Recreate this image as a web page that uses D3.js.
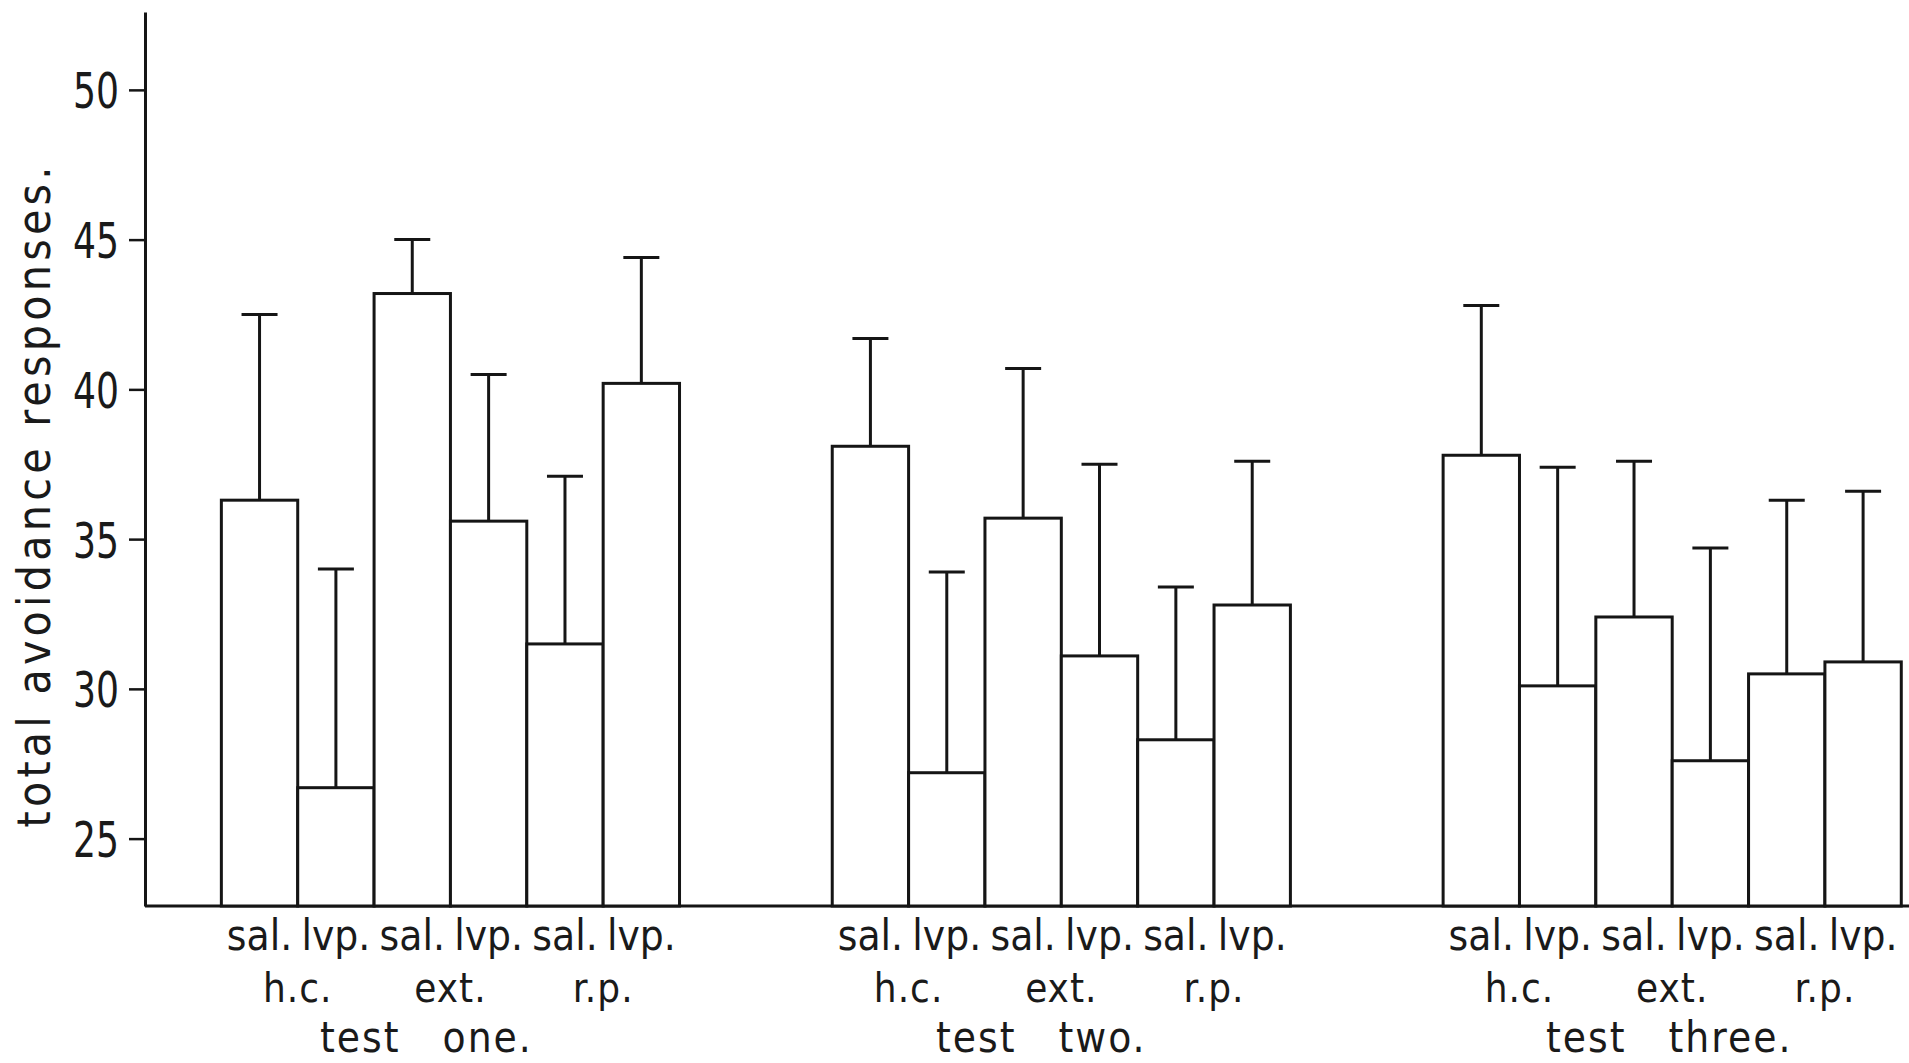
<!DOCTYPE html>
<html>
<head>
<meta charset="utf-8">
<script src="https://cdn.jsdelivr.net/npm/d3@7"></script>
<style>
  body { margin: 0; background: #fff; }
  text { font-family: "DejaVu Sans Condensed", "DejaVu Sans", sans-serif; font-stretch: condensed; fill: #1a1a1a; }
</style>
</head>
<body>
<script>
// tests, conditions and drug groups
var tests = ["test   one.", "test   two.", "test   three."];
var conditions = ["h.c.", "ext.", "r.p."];
var drugs = ["sal.", "lvp."];

// mean total avoidance responses, 6 bars per test (sal/lvp for h.c., ext., r.p.)
var meansOne = [36.3, 26.7, 43.2, 35.6, 31.5, 40.2];
var meansTwo = [38.1, 27.2, 35.7, 31.1, 28.3, 32.8];
var meansThree = [37.8, 30.1, 32.4, 27.6, 30.5, 30.9];

// error bar lengths (upward only)
var errOne = [6.2, 7.3, 1.8, 4.9, 5.6, 4.2];
var errTwo = [3.6, 6.7, 5.0, 6.4, 5.1, 4.8];
var errThree = [5.0, 7.3, 5.2, 7.1, 5.8, 5.7];

var yTicks = [25, 30, 35, 40, 45, 50];

var width = 1909,
	height = 1063;

var svg = d3.select("body")
	.append("svg")
	.attr("width", width)
	.attr("height", height);

svg.append("rect").attr("width", width).attr("height", height).attr("fill", "#fff");

//build rows from the arrays
var allMeans = [meansOne, meansTwo, meansThree],
	allErr = [errOne, errTwo, errThree];
var bars = [];
tests.forEach(function(t, g){
	allMeans[g].forEach(function(m, i){
		bars.push({test: t, key: i, drug: drugs[i % 2], cond: conditions[Math.floor(i / 2)], mean: m, err: allErr[g][i]});
	});
});

var axisX = 145;

var x0 = d3.scaleBand()
	.domain(tests)
	.range([axisX, axisX + 24 * 76.36])
	.paddingInner(0.25)
	.paddingOuter(0.125);

var x1 = d3.scaleBand()
	.domain(d3.range(6))
	.range([0, x0.bandwidth()])
	.padding(0);

var y = d3.scaleLinear()
	.domain([22.75, 52.6])
	.range([906, 12]);

var ink = "#151515";

//y axis
var yAxis = svg.append("g")
	.attr("transform", "translate(" + axisX + ",0)")
	.call(d3.axisLeft(y).tickValues(yTicks).tickSize(16).tickSizeOuter(0).tickPadding(10));
yAxis.select(".domain").attr("stroke", ink).attr("stroke-width", 3);
yAxis.selectAll(".tick line").attr("stroke", ink).attr("stroke-width", 2.5);
yAxis.selectAll(".tick text")
	.style("font-size", "50px")
	.attr("fill", "#1a1a1a")
	.attr("textLength", 46)
	.attr("lengthAdjust", "spacingAndGlyphs")
	.attr("dy", "0.36em");

//baseline
svg.append("line")
	.attr("x1", axisX).attr("x2", width)
	.attr("y1", y(22.75)).attr("y2", y(22.75))
	.attr("stroke", ink).attr("stroke-width", 3);

//bars
var groups = svg.selectAll(".grp")
	.data(tests)
	.enter()
	.append("g")
	.attr("class", "grp")
	.attr("transform", function(d){ return "translate(" + x0(d) + ",0)"; });

groups.selectAll(".bar")
	.data(function(t){ return bars.filter(function(b){ return b.test === t; }); })
	.enter()
	.append("rect")
	.attr("class", "bar")
	.attr("x", function(d){ return x1(d.key); })
	.attr("width", x1.bandwidth())
	.attr("y", function(d){ return y(d.mean); })
	.attr("height", function(d){ return y(22.75) - y(d.mean); })
	.attr("fill", "#fff")
	.attr("stroke", ink)
	.attr("stroke-width", 3);

//error bars
var cap = 18;
var eb = groups.selectAll(".err")
	.data(function(t){ return bars.filter(function(b){ return b.test === t; }); })
	.enter()
	.append("g")
	.attr("class", "err")
	.attr("stroke", ink)
	.attr("stroke-width", 3);
eb.append("line")
	.attr("x1", function(d){ return x1(d.key) + x1.bandwidth() / 2; })
	.attr("x2", function(d){ return x1(d.key) + x1.bandwidth() / 2; })
	.attr("y1", function(d){ return y(d.mean); })
	.attr("y2", function(d){ return y(d.mean + d.err); });
eb.append("line")
	.attr("x1", function(d){ return x1(d.key) + x1.bandwidth() / 2 - cap; })
	.attr("x2", function(d){ return x1(d.key) + x1.bandwidth() / 2 + cap; })
	.attr("y1", function(d){ return y(d.mean + d.err); })
	.attr("y2", function(d){ return y(d.mean + d.err); });

//category labels, three rows
groups.selectAll(".drug")
	.data(function(t){ return bars.filter(function(b){ return b.test === t; }); })
	.enter()
	.append("text")
	.attr("class", "drug")
	.attr("x", function(d){ return x1(d.key) + x1.bandwidth() / 2; })
	.attr("y", 950)
	.attr("text-anchor", "middle")
	.style("font-size", "42px")
	.text(function(d){ return d.drug; });

groups.selectAll(".cond")
	.data(conditions)
	.enter()
	.append("text")
	.attr("class", "cond")
	.attr("x", function(d, i){ return x1(i * 2) + x1.bandwidth(); })
	.attr("y", 1002)
	.attr("text-anchor", "middle")
	.style("font-size", "40px")
	.style("letter-spacing", "1px")
	.text(function(d){ return d; });

var titleNudge = [-24, -20, -3];
groups.append("text")
	.attr("x", function(d, i){ return x0.bandwidth() / 2 + titleNudge[i]; })
	.attr("y", 1052)
	.attr("text-anchor", "middle")
	.style("font-size", "42px")
	.style("letter-spacing", "2px")
	.style("white-space", "pre")
	.text(function(d){ return d; });

//y axis title
svg.append("text")
	.attr("transform", "translate(50,497) rotate(-90)")
	.attr("text-anchor", "middle")
	.attr("textLength", 661)
	.attr("lengthAdjust", "spacing")
	.style("font-size", "46px")
	.text("total avoidance responses.");
</script>
</body>
</html>
